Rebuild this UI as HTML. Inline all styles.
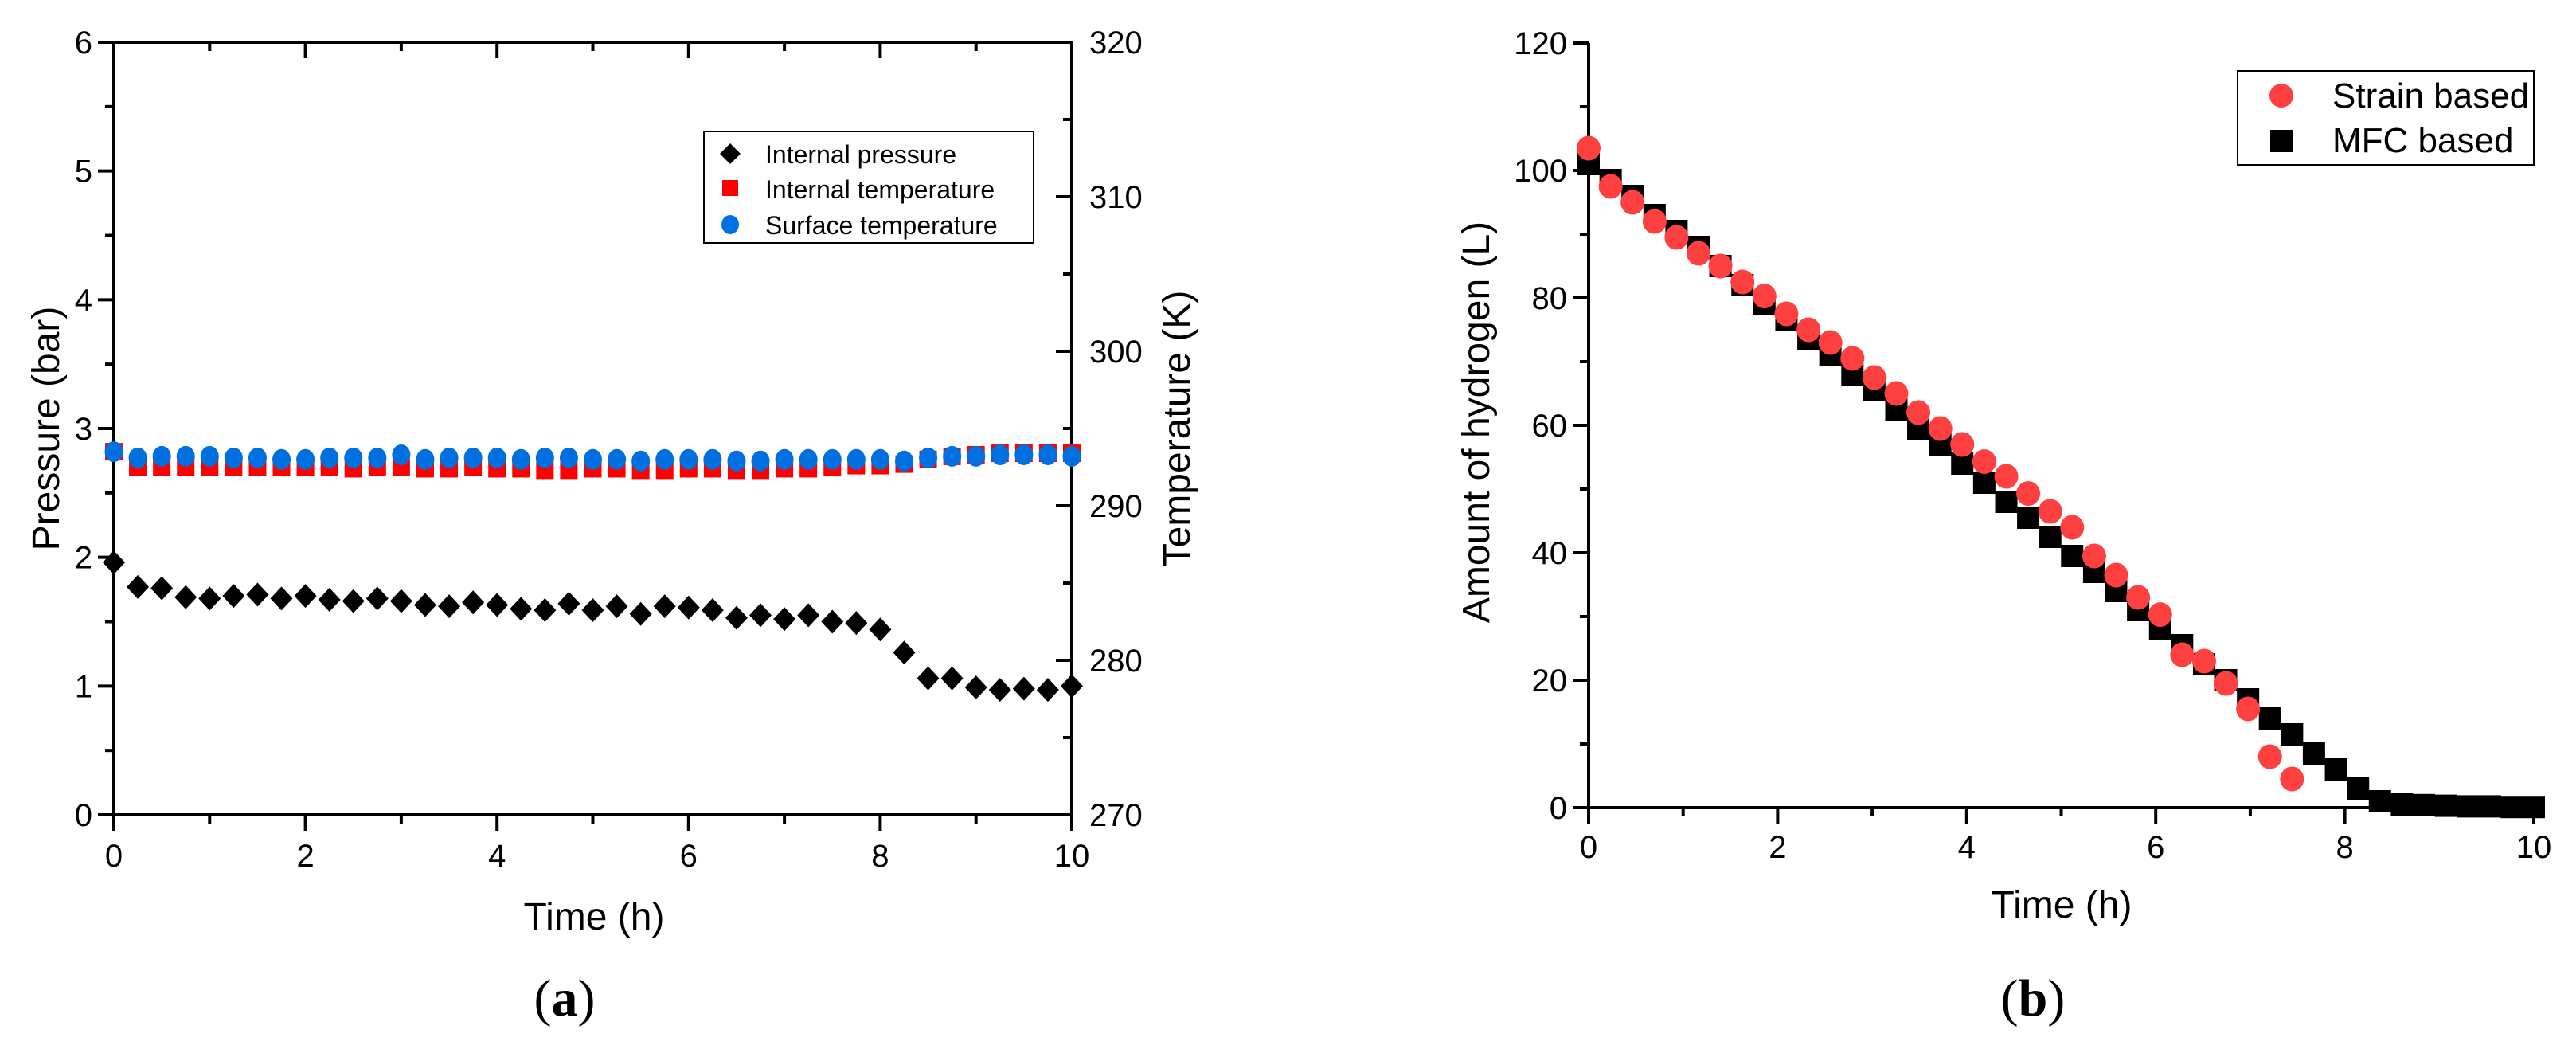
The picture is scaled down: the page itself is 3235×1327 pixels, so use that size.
<!DOCTYPE html>
<html><head><meta charset="utf-8">
<style>
html,body{margin:0;padding:0;background:#fff;}
svg{display:block;font-family:"Liberation Sans",Arial,sans-serif;}
</style></head>
<body>
<svg id="fig" width="3235" height="1327" viewBox="0 0 3235 1327" xmlns="http://www.w3.org/2000/svg">
<rect width="3235" height="1327" fill="#fff"/>
<g id="chartA"></g>
<g id="chartB"></g>
</svg>
<script>
// ---- Chart (a) data ----
const timeA = [0,0.25,0.5,0.75,1,1.25,1.5,1.75,2,2.25,2.5,2.75,3,3.25,3.5,3.75,4,4.25,4.5,4.75,5,5.25,5.5,5.75,6,6.25,6.5,6.75,7,7.25,7.5,7.75,8,8.25,8.5,8.75,9,9.25,9.5,9.75,10];
const pressure = [1.96,1.77,1.76,1.69,1.68,1.70,1.71,1.68,1.70,1.67,1.66,1.68,1.66,1.63,1.62,1.65,1.63,1.60,1.59,1.64,1.59,1.62,1.56,1.62,1.61,1.59,1.53,1.55,1.52,1.55,1.50,1.49,1.44,1.26,1.06,1.06,0.99,0.97,0.98,0.97,1.00];
const internalTemp = [293.5,292.5,292.5,292.5,292.5,292.5,292.5,292.5,292.5,292.5,292.4,292.5,292.5,292.4,292.4,292.5,292.4,292.4,292.3,292.3,292.4,292.4,292.3,292.3,292.4,292.4,292.3,292.3,292.4,292.4,292.5,292.6,292.6,292.7,293.0,293.2,293.3,293.4,293.4,293.4,293.4];
const surfaceTemp = [293.5,293.1,293.2,293.2,293.2,293.1,293.1,293.0,293.0,293.1,293.1,293.1,293.3,293.0,293.1,293.1,293.1,293.0,293.1,293.1,293.0,293.0,292.9,293.0,293.0,293.0,292.9,292.9,293.0,293.0,293.0,293.0,293.0,292.9,293.1,293.2,293.2,293.3,293.3,293.3,293.2];
const xTicksA = [0,2,4,6,8,10];
const yTicksA = [0,1,2,3,4,5,6];
const yTicksAR = [270,280,290,300,310,320];

// ---- Chart (b) data ----
const timeStrain = [0,0.233,0.465,0.698,0.93,1.163,1.395,1.628,1.86,2.093,2.326,2.558,2.791,3.023,3.256,3.488,3.721,3.953,4.186,4.419,4.651,4.884,5.116,5.349,5.581,5.814,6.047,6.279,6.512,6.744,6.977,7.209,7.442];
const strain = [103.5,97.5,95,92,89.5,87,85,82.5,80.3,77.5,75,73,70.5,67.5,65,62,59.5,57,54.3,52,49.3,46.5,44,39.5,36.5,33,30.3,24,23,19.5,15.5,8,4.5];
const timeMFC = [0,0.233,0.465,0.698,0.93,1.163,1.395,1.628,1.86,2.093,2.326,2.558,2.791,3.023,3.256,3.488,3.721,3.953,4.186,4.419,4.651,4.884,5.116,5.349,5.581,5.814,6.047,6.279,6.512,6.744,6.977,7.209,7.442,7.674,7.907,8.14,8.372,8.605,8.837,9.07,9.302,9.535,9.767,10];
const mfc = [101,98.5,96,93,90.5,88,85,82,79,76.5,73.5,71,68,65.5,62.5,59.5,57,54,51,48,45.5,42.5,39.5,37,34,31,28,25.5,22.5,20,17,14,11.5,8.5,6,3,1,0.5,0.4,0.3,0.2,0.2,0.1,0.1];
const xTicksB = [0,2,4,6,8,10];
const yTicksB = [0,20,40,60,80,100,120];

const NS = 'http://www.w3.org/2000/svg';
function mk(parent, tag, attrs, text){
  const e = document.createElementNS(NS, tag);
  for (const k in attrs) e.setAttribute(k, attrs[k]);
  if (text !== undefined) e.textContent = text;
  parent.appendChild(e);
  return e;
}

// ===== Chart A =====
const A = document.getElementById('chartA');
const ax = {l:143, r:1346, t:53, b:1023};
const xA = v => ax.l + (v/10)*(ax.r-ax.l);
const yA = v => ax.b - (v/6)*(ax.b-ax.t);
const yAR = v => ax.b - ((v-270)/50)*(ax.b-ax.t);

let e;
e = mk(A,'line',{x1:ax.l,y1:ax.t,x2:ax.l,y2:ax.b+2,stroke:'#000','stroke-width':4});
 
e = mk(A,'line',{x1:ax.r,y1:ax.t-2,x2:ax.r,y2:ax.b+2,stroke:'#000','stroke-width':4});
 
e = mk(A,'line',{x1:ax.l-2,y1:ax.b,x2:ax.r+2,y2:ax.b,stroke:'#000','stroke-width':4});
 
e = mk(A,'line',{x1:ax.l-18,y1:ax.t,x2:ax.r+2,y2:ax.t,stroke:'#000','stroke-width':4});
 

xTicksA.forEach((t,i)=>{
  const x = xA(t);
  mk(A,'line',{x1:x,y1:ax.b,x2:x,y2:ax.b+20,stroke:'#000','stroke-width':4});
  mk(A,'line',{x1:x,y1:ax.t,x2:x,y2:ax.t+20,stroke:'#000','stroke-width':4});
  const lb = mk(A,'text',{x:x,y:1088,'font-size':40,'text-anchor':'middle'},String(t));
   
  if (i < xTicksA.length-1){
    const xm = xA(t+1);
    mk(A,'line',{x1:xm,y1:ax.b,x2:xm,y2:ax.b+11,stroke:'#000','stroke-width':4});
    mk(A,'line',{x1:xm,y1:ax.t,x2:xm,y2:ax.t+11,stroke:'#000','stroke-width':4});
  }
});
yTicksA.forEach((t,i)=>{
  const y = yA(t);
  mk(A,'line',{x1:ax.l-20,y1:y,x2:ax.l,y2:y,stroke:'#000','stroke-width':4});
  const lb = mk(A,'text',{x:ax.l-27,y:y+14,'font-size':40,'text-anchor':'end'},String(t));
   
  if (i < yTicksA.length-1){ const ym = yA(t+0.5); mk(A,'line',{x1:ax.l-11,y1:ym,x2:ax.l,y2:ym,stroke:'#000','stroke-width':4}); }
});
yTicksAR.forEach((t,i)=>{
  const y = yAR(t);
  mk(A,'line',{x1:ax.r-20,y1:y,x2:ax.r,y2:y,stroke:'#000','stroke-width':4});
  const lb = mk(A,'text',{x:ax.r+22,y:y+14,'font-size':40,'text-anchor':'start'},String(t));
   
  if (i < yTicksAR.length-1){ const ym = yAR(t+5); mk(A,'line',{x1:ax.r-11,y1:ym,x2:ax.r,y2:ym,stroke:'#000','stroke-width':4}); }
});

internalTemp.forEach((v,i)=>{
  const r = mk(A,'rect',{x:xA(timeA[i])-11,y:yAR(v)-11,width:22,height:22,fill:'#ff0000'});
   
});
surfaceTemp.forEach((v,i)=>{
  const c = mk(A,'ellipse',{cx:xA(timeA[i]),cy:yAR(v),rx:11.5,ry:13,fill:'#0070e0'});
   
});
pressure.forEach((v,i)=>{
  const x = xA(timeA[i]), y = yA(v);
  const p = mk(A,'polygon',{points:`${x},${y-15} ${x+14},${y} ${x},${y+15} ${x-14},${y}`,fill:'#000'});
   
});

const lgA = mk(A,'g',{});
 
mk(lgA,'rect',{x:884,y:165,width:414,height:140,fill:'#fff',stroke:'#000','stroke-width':2});
mk(lgA,'polygon',{points:'917,180 930,193 917,206 904,193',fill:'#000'});
mk(lgA,'text',{x:961,y:205,'font-size':32},'Internal pressure');
mk(lgA,'rect',{x:907,y:226,width:20,height:20,fill:'#ff0000'});
mk(lgA,'text',{x:961,y:249,'font-size':32},'Internal temperature');
mk(lgA,'ellipse',{cx:917,cy:282,rx:11,ry:12,fill:'#0070e0'});
mk(lgA,'text',{x:961,y:294,'font-size':32},'Surface temperature');

e = mk(A,'text',{x:746,y:1167,'font-size':48,'text-anchor':'middle'},'Time (h)');
 
e = mk(A,'text',{x:0,y:0,'font-size':48,'text-anchor':'middle',transform:'translate(74,538) rotate(-90)'},'Pressure (bar)');
 
e = mk(A,'text',{x:0,y:0,'font-size':48,'text-anchor':'middle',transform:'translate(1494,538) rotate(-90)'},'Temperature (K)');
 
e = mk(A,'text',{x:709,y:1275,'font-size':66,'text-anchor':'middle','font-family':'Liberation Serif, serif'});
e.innerHTML = '(<tspan font-weight="bold">a</tspan>)';
 

// ===== Chart B =====
const B = document.getElementById('chartB');
const bx = {l:1995, r:3182, t:54, b:1014};
const xB = v => bx.l + (v/10)*(bx.r-bx.l);
const yB = v => bx.b - (v/120)*(bx.b-bx.t);
e = mk(B,'line',{x1:bx.l,y1:bx.t,x2:bx.l,y2:bx.b+2,stroke:'#000','stroke-width':4});
 
e = mk(B,'line',{x1:bx.l-2,y1:bx.b,x2:bx.r+2,y2:bx.b,stroke:'#000','stroke-width':4});
 
xTicksB.forEach((t,i)=>{
  const x = xB(t);
  mk(B,'line',{x1:x,y1:bx.b,x2:x,y2:bx.b+20,stroke:'#000','stroke-width':4});
  const lb = mk(B,'text',{x:x,y:1077,'font-size':40,'text-anchor':'middle'},String(t));
   
  if (i < xTicksB.length-1){ const xm = xB(t+1); mk(B,'line',{x1:xm,y1:bx.b,x2:xm,y2:bx.b+11,stroke:'#000','stroke-width':4}); }
});
yTicksB.forEach((t,i)=>{
  const y = yB(t);
  mk(B,'line',{x1:bx.l-20,y1:y,x2:bx.l,y2:y,stroke:'#000','stroke-width':4});
  const lb = mk(B,'text',{x:bx.l-27,y:y+14,'font-size':40,'text-anchor':'end'},String(t));
   
  if (i < yTicksB.length-1){ const ym = yB(t+10); mk(B,'line',{x1:bx.l-11,y1:ym,x2:bx.l,y2:ym,stroke:'#000','stroke-width':4}); }
});
mfc.forEach((v,i)=>{
  const r = mk(B,'rect',{x:xB(timeMFC[i])-14,y:yB(v)-14,width:28,height:28,fill:'#000'});
   
});
strain.forEach((v,i)=>{
  const c = mk(B,'ellipse',{cx:xB(timeStrain[i]),cy:yB(v),rx:15,ry:15.5,fill:'#ff4040'});
   
});
const lgB = mk(B,'g',{});
 
mk(lgB,'rect',{x:2810,y:89,width:372,height:118,fill:'#fff',stroke:'#000','stroke-width':2});
mk(lgB,'ellipse',{cx:2865,cy:120,rx:15,ry:15,fill:'#ff4040'});
mk(lgB,'text',{x:2929,y:135,'font-size':44},'Strain based');
mk(lgB,'rect',{x:2851,y:163,width:28,height:28,fill:'#000'});
mk(lgB,'text',{x:2929,y:191,'font-size':44},'MFC based');
e = mk(B,'text',{x:2589,y:1152,'font-size':48,'text-anchor':'middle'},'Time (h)');
 
e = mk(B,'text',{x:0,y:0,'font-size':48,'text-anchor':'middle',transform:'translate(1870,530) rotate(-90)'},'Amount of hydrogen (L)');
 
e = mk(B,'text',{x:2553,y:1275,'font-size':66,'text-anchor':'middle','font-family':'Liberation Serif, serif'});
e.innerHTML = '(<tspan font-weight="bold">b</tspan>)';
 
</script>
</body></html>
